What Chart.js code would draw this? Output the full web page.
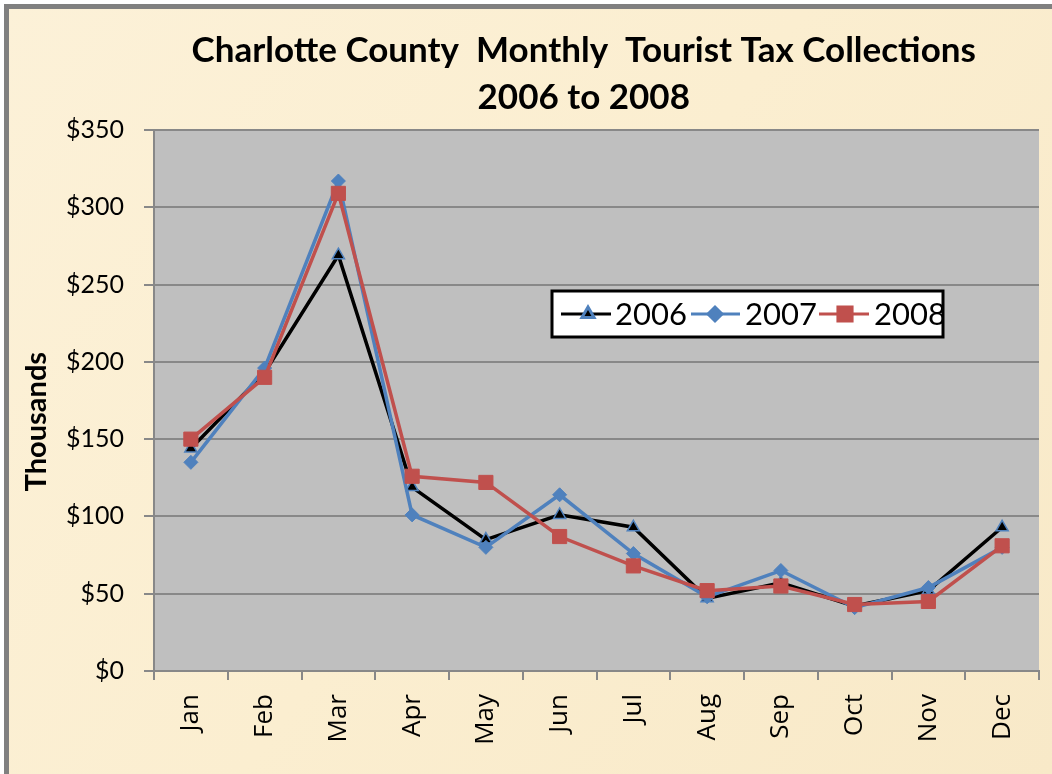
<!DOCTYPE html>
<html><head><meta charset="utf-8">
<script src="https://cdn.jsdelivr.net/npm/chart.js@4"></script>
<style>html,body{margin:0;padding:0;background:#fff;overflow:hidden}</style>
</head><body>
<canvas id="c" width="1052" height="774"></canvas>
<script>
const categories = ['Jan','Feb','Mar','Apr','May','Jun','Jul','Aug','Sep','Oct','Nov','Dec'];
const series2006 = [144,193,269,119,85,101,93,47,57,42,52,93];
const series2007 = [135,196,317,101,80,114,76,48,65,41,54,80];
const series2008 = [150,190,309,126,122,87,68,52,55,43,45,81];
const seriesNames = ['2006','2007','2008'];
const yTickValues = [0,50,100,150,200,250,300,350];
const titleLines = ['Charlotte County  Monthly  Tourist Tax Collections   ','2006 to 2008   '];
const yAxisTitle = 'Thousands      ';

const BLACK = '#000000', BLUE = '#4F81BD', RED = '#C0504D';

const bgPlugin = {
  id: 'bg',
  beforeDraw(chart) {
    const ctx = chart.ctx, w = chart.width, h = chart.height, a = chart.chartArea;
    ctx.save();
    ctx.fillStyle = '#ffffff';
    ctx.fillRect(0, 0, w, h);
    const g = ctx.createLinearGradient(0, 0, w, h);
    g.addColorStop(0, '#FCF1D8');
    g.addColorStop(0.5, '#FBEED0');
    g.addColorStop(1, '#F8E9C8');
    ctx.fillStyle = g;
    ctx.fillRect(9, 9, w - 9, h - 9);
    ctx.fillStyle = '#808080';
    ctx.fillRect(4, 4, w - 4, 5);
    ctx.fillRect(4, 4, 5, h - 4);
    ctx.fillStyle = '#BFBFBF';
    ctx.fillRect(a.left, a.top, a.right - a.left, a.bottom - a.top);
    ctx.restore();
  }
};

const legendPlugin = {
  id: 'boxLegend',
  afterDraw(chart) {
    const ctx = chart.ctx;
    const H = Chart.helpers;
    const box = {l: 552, t: 291, r: 943, b: 337};
    const cy = (box.t + box.b) / 2;
    ctx.save();
    ctx.fillStyle = '#ffffff';
    ctx.fillRect(box.l, box.t, box.r - box.l, box.b - box.t);
    ctx.beginPath();
    ctx.rect(box.l + 2, box.t, box.r - box.l - 3, box.b - box.t);
    ctx.clip();
    const items = [
      {x1: 561, x2: 611, mx: 588, tx: 615, ds: chart.data.datasets[0]},
      {x1: 691, x2: 740, mx: 715, tx: 745, ds: chart.data.datasets[1]},
      {x1: 819, x2: 869, mx: 845, tx: 874, ds: chart.data.datasets[2]}
    ];
    items.forEach(it => {
      ctx.strokeStyle = it.ds.borderColor;
      ctx.lineWidth = 3;
      ctx.beginPath(); ctx.moveTo(it.x1, cy); ctx.lineTo(it.x2, cy); ctx.stroke();
      ctx.fillStyle = it.ds.pointBackgroundColor;
      ctx.strokeStyle = it.ds.pointBorderColor;
      H.drawPoint(ctx, {pointStyle: it.ds.pointStyle, radius: it.ds.pointRadius, borderWidth: it.ds.pointBorderWidth, rotation: 0}, it.mx, cy);
      ctx.fillStyle = '#000';
      ctx.font = '31px Lato';
      ctx.textBaseline = 'middle';
      ctx.textAlign = 'left';
      ctx.fillText(it.ds.label, it.tx, cy + 1);
    });
    ctx.restore();
    ctx.save();
    ctx.strokeStyle = '#000';
    ctx.lineWidth = 3;
    ctx.strokeRect(box.l, box.t, box.r - box.l, box.b - box.t);
    ctx.restore();
  }
};

new Chart(document.getElementById('c'), {
  type: 'line',
  data: {
    labels: categories,
    datasets: [
      {label: seriesNames[0], data: series2006, borderColor: BLACK, backgroundColor: BLACK,
       pointStyle: 'triangle', pointRadius: 7, pointBackgroundColor: BLACK, pointBorderColor: BLUE,
       pointBorderWidth: 1.5, borderWidth: 3.5, order: 2},
      {label: seriesNames[1], data: series2007, borderColor: BLUE, backgroundColor: BLUE,
       pointStyle: 'rectRot', pointRadius: 7, pointBackgroundColor: BLUE, pointBorderColor: BLUE,
       pointBorderWidth: 1, borderWidth: 3.5, order: 1},
      {label: seriesNames[2], data: series2008, borderColor: RED, backgroundColor: RED,
       pointStyle: 'rect', pointRadius: 10, pointBackgroundColor: RED, pointBorderColor: RED,
       pointBorderWidth: 1, borderWidth: 3.5, order: 0}
    ]
  },
  options: {
    responsive: false,
    animation: false,
    devicePixelRatio: 1,
    layout: {padding: {left: 9, right: 13, top: 0, bottom: 0}},
    plugins: {
      legend: {display: false},
      tooltip: {enabled: false},
      title: {
        display: true,
        text: titleLines,
        fullSize: false,
        color: '#000',
        font: {family: 'Lato', size: 35, weight: 'bold', lineHeight: 1.343},
        padding: {top: 27, bottom: 9}
      }
    },
    scales: {
      x: {
        type: 'category',
        offset: true,
        grid: {display: true, offset: true, drawOnChartArea: false, drawTicks: true, tickLength: 9, color: '#888888', lineWidth: 2},
        border: {display: true, color: '#888888', width: 2},
        ticks: {color: '#000', font: {family: 'Open Sans', size: 26}, minRotation: 90, maxRotation: 90, padding: 14, autoSkip: false},
        afterFit(s) { s.height = 103; }
      },
      y: {
        min: 0, max: 350,
        afterBuildTicks(s) { s.ticks = yTickValues.map(v => ({value: v})); },
        grid: {color: '#888888', lineWidth: 2, drawTicks: true, tickLength: 10},
        border: {display: true, color: '#888888', width: 2},
        ticks: {color: '#000', font: {family: 'Lato', size: 25}, padding: 20, callback: v => '$' + v},
        title: {display: true, text: yAxisTitle, color: '#000', font: {family: 'Lato', size: 29, weight: 'bold'}, padding: {top: 10, bottom: 0}},
        afterFit(s) { s.width = 145; }
      }
    }
  },
  plugins: [bgPlugin, legendPlugin]
});
</script>
</body></html>
